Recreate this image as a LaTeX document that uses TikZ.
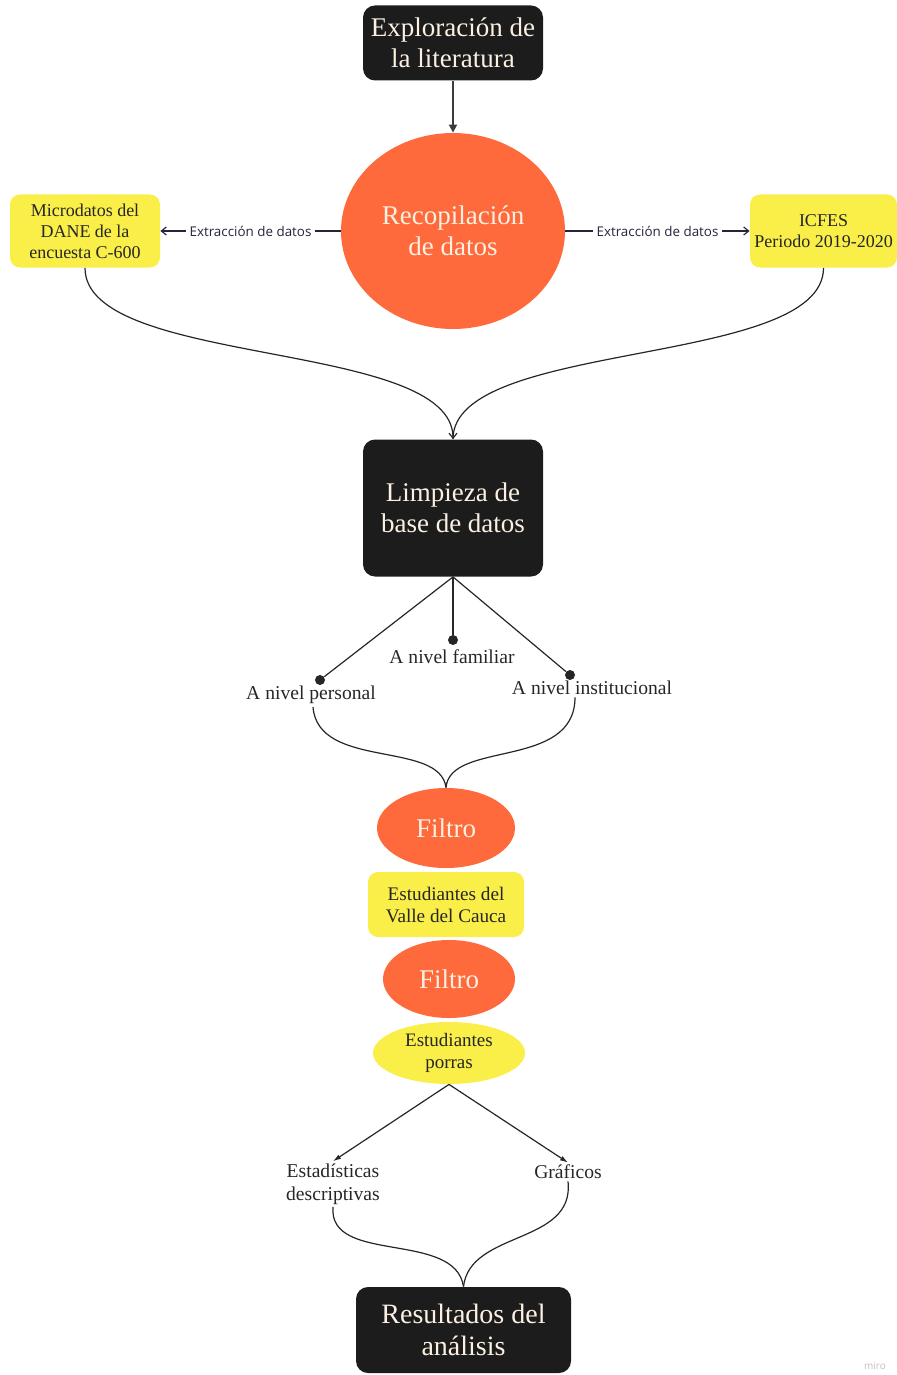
\documentclass[tikz,border=0pt]{standalone}
\usepackage{fontspec}
\setmainfont{Liberation Serif}
\newfontfamily\labelfont{Open Sans}
\usetikzlibrary{arrows.meta, shapes.geometric}

\definecolor{boxblack}{HTML}{1C1C1C}
\definecolor{filterorange}{HTML}{FF6A3C}
\definecolor{noteyellow}{HTML}{FAEE48}
\definecolor{creamtext}{HTML}{FBF0E2}
\definecolor{inkblue}{HTML}{24243E}
\definecolor{arrowgray}{HTML}{3C3C3C}

\begin{document}
\begin{tikzpicture}[x = 0.5pt, y = -0.5pt,
	stepbox/.style = {rectangle, rounded corners = 6pt, fill = boxblack, text = creamtext, align = center, inner sep = 0pt, font = \fontsize{13.5}{15.5}\selectfont},
	bigoval/.style = {ellipse, fill = filterorange, text = creamtext, align = center, inner sep = 0pt, font = \fontsize{13.5}{15.5}\selectfont},
	notebox/.style = {rectangle, rounded corners = 5pt, fill = noteyellow, text = black!85, align = center, inner sep = 0pt, font = \fontsize{9}{10.5}\selectfont},
	noteoval/.style = {ellipse, fill = noteyellow, text = black!85, align = center, inner sep = 0pt, font = \fontsize{9.5}{11}\selectfont},
	leveltext/.style = {align = center, inner sep = 1pt, text = black!85, font = \fontsize{9.8}{11.5}\selectfont},
	leveldot/.style = {circle, fill = black!85, inner sep = 0pt, minimum size = 5pt},
	extractlabel/.style = {fill = white, inner sep = 2pt, text = inkblue, font = \labelfont\fontsize{6.7}{8}\selectfont},
	link/.style = {line width = 0.6pt, draw = black!85}]
	\useasboundingbox (0, 0) rectangle (897, 1375);

	% Nodes
	\node[stepbox, minimum width = 90pt, minimum height = 37.5pt] (explo) at (453, 43) {Exploración de\\la literatura};
	\node[bigoval, minimum width = 112pt, minimum height = 98pt] (recop) at (453, 231) {Recopilación\\de datos};
	\node[notebox, minimum width = 75pt, minimum height = 36.5pt] (micro) at (85, 231) {Microdatos del\\DANE de la\\encuesta C-600};
	\node[notebox, minimum width = 73.5pt, minimum height = 36.5pt] (icfes) at (823.5, 231) {ICFES\\Periodo 2019-2020};
	\node[stepbox, minimum width = 90pt, minimum height = 68.5pt] (limp) at (453, 508) {Limpieza de\\base de datos};

	\node[leveldot] (dper) at (320, 680) {};
	\node[leveldot] (dfam) at (453, 640) {};
	\node[leveldot] (dinst) at (570, 675) {};
	\node[leveltext] (per) at (311, 695) {A nivel personal};
	\node[leveltext] (fam) at (452, 657) {A nivel familiar};
	\node[leveltext] (inst) at (592, 688) {A nivel institucional};

	\node[bigoval, minimum width = 69pt, minimum height = 40pt] (filt1) at (446, 828) {Filtro};
	\node[notebox, minimum width = 78pt, minimum height = 32.5pt, font = \fontsize{9.6}{11}\selectfont] (valle) at (446, 904.5) {Estudiantes del\\Valle del Cauca};
	\node[bigoval, minimum width = 66pt, minimum height = 39pt] (filt2) at (449, 979) {Filtro};
	\node[noteoval, minimum width = 76pt, minimum height = 31pt] (porras) at (449, 1053) {Estudiantes\\porras};

	\node[leveltext] (estad) at (333, 1184) {Estadísticas\\descriptivas};
	\node[leveltext] (graf) at (568, 1172) {Gráficos};
	\node[stepbox, minimum width = 107.5pt, minimum height = 43pt, font = \fontsize{14}{16}\selectfont] (result) at (463.5, 1330) {Resultados del\\análisis};

	\node[text = black!25, font = \labelfont\fontsize{5}{6}\selectfont] (miro) at (875, 1366) {miro};

	% Edges
	\draw[line width = 0.9pt, draw = arrowgray, -{Triangle[length = 4pt, width = 4pt]}] (explo) -- (recop);
	\draw[link, draw = inkblue, -{Straight Barb[length = 2.5pt, width = 4pt]}] (recop.west) -- node[extractlabel] {Extracción de datos} (micro.east);
	\draw[link, draw = inkblue, -{Straight Barb[length = 2.5pt, width = 4pt]}] (recop.east) -- node[extractlabel] {Extracción de datos} (icfes.west);
	\draw[link, -{Straight Barb[length = 2.5pt, width = 4pt]}] (micro.south) .. controls +(0, 100) and +(0, -100) .. (limp.north);
	\draw[link] (icfes.south) .. controls +(0, 100) and +(0, -100) .. (limp.north);

	\draw[link] (limp.south) -- (dper);
	\draw[link] (limp.south) -- (dfam);
	\draw[link] (limp.south) -- (dinst);
	\draw[link] (313, 707) .. controls (318, 770) and (440, 740) .. (filt1.north);
	\draw[link] (inst.south -| 575, 0) .. controls (575, 770) and (450, 740) .. (filt1.north);

	\draw[link, -{Latex[length = 4pt, width = 2.5pt]}] (porras.south) -- (estad.north);
	\draw[link, -{Latex[length = 4pt, width = 2.5pt]}] (porras.south) -- (graf.north);
	\draw[link] (estad.south) .. controls (328, 1265) and (455, 1230) .. (result.north);
	\draw[link] (graf.south) .. controls (575, 1245) and (470, 1230) .. (result.north);
\end{tikzpicture}
\end{document}
